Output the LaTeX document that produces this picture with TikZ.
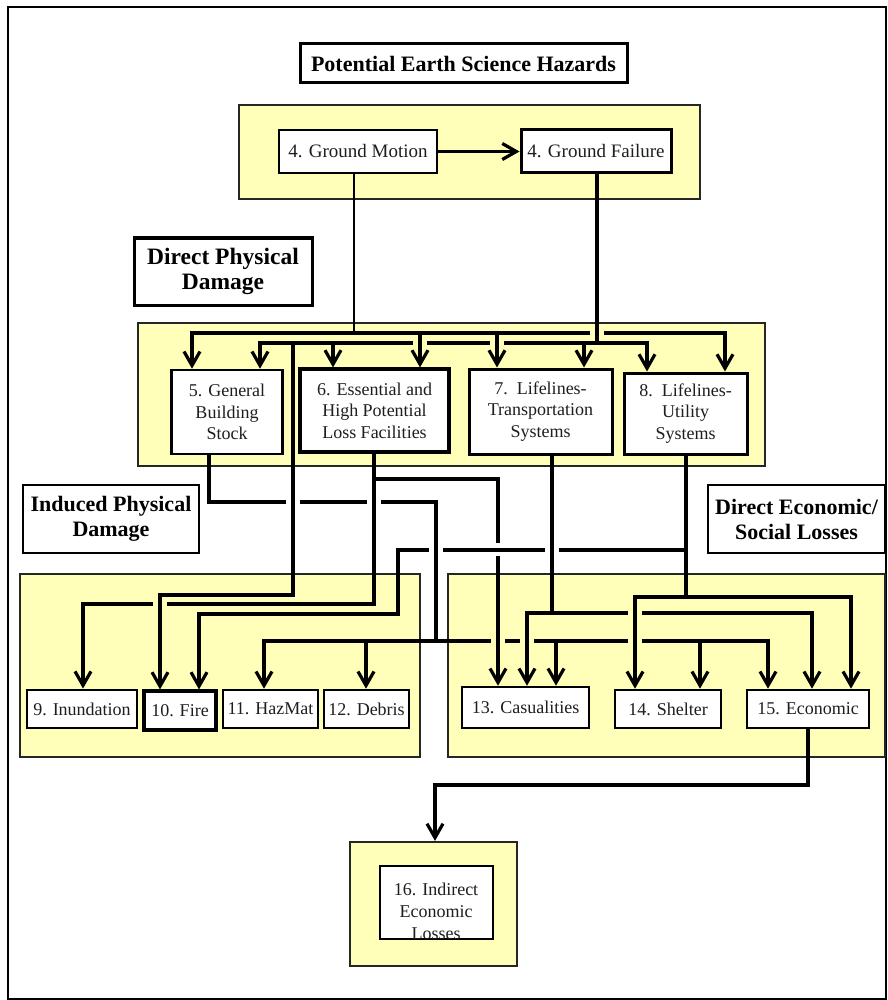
\documentclass[tikz,border=0pt]{standalone}
\usepackage{fontspec}
\setmainfont{Liberation Serif}
\usetikzlibrary{arrows.meta}
\definecolor{yel}{RGB}{255,255,185}
\definecolor{ink}{RGB}{30,30,30}
\begin{document}
\begin{tikzpicture}[x=1pt,y=-1pt,
  yellowbox/.style={draw=black!85, line width=1.6pt, fill=yel, inner sep=0pt},
  wbox/.style={draw=black, line width=2.6pt, fill=white, inner sep=0pt, align=center, text=ink, font=\fontsize{18}{21.6}\selectfont},
  hbox/.style={draw=black, line width=3pt, fill=white, inner sep=0pt, align=center, font=\fontsize{22}{25}\selectfont\bfseries},
  conn/.style={line width=3.2pt},
  medconn/.style={line width=3.2pt},
  thinconn/.style={line width=1.8pt},
  arr/.style={-{Straight Barb[length=14pt,width=16pt]}},
]
\useasboundingbox (0,0) rectangle (887,1000);
\draw[line width=2.8pt] (8,7) rectangle (886,999);

% group backgrounds
\node[yellowbox, minimum width=461, minimum height=94] (y1) at (469.5,152) {};
\node[yellowbox, minimum width=627, minimum height=143] (y2) at (451.5,394.5) {};
\node[yellowbox, minimum width=400, minimum height=183] (y3) at (220,665.5) {};
\node[yellowbox, minimum width=437, minimum height=183] (y4) at (666.5,665.5) {};
\node[yellowbox, line width=2.2pt, minimum width=167, minimum height=124] (y5) at (433.5,904) {};

% headings
\node[hbox, minimum width=327, minimum height=39] (title) at (463.5,63.5) {Potential Earth Science Hazards};
\node[hbox, minimum width=178, minimum height=67, font=\fontsize{23.5}{25.5}\selectfont\bfseries] (dpd) at (223,271.5) {Direct Physical\\Damage};
\node[hbox, line width=2.4pt, minimum width=176, minimum height=68] (ipd) at (111,519) {Induced Physical\\Damage};
\node[hbox, line width=2.4pt, minimum width=177, minimum height=68] (des) at (796.5,519) {Direct Economic/\\Social Losses};

% boxes
\node[wbox, line width=2.8pt, minimum width=158, minimum height=43, font=\fontsize{19}{22}\selectfont] (gm) at (358,151.5) {4. Ground Motion};
\node[wbox, line width=3pt, minimum width=150, minimum height=43, font=\fontsize{19}{22}\selectfont] (gf) at (596,151.5) {4. Ground Failure};
\node[wbox, minimum width=111, minimum height=84] (b5) at (227,412) {5. General\\Building\\Stock};
\node[wbox, line width=3.2pt, minimum width=149, minimum height=83] (b6) at (374.5,410.5) {6. Essential and\\High Potential\\Loss Facilities};
\node[wbox, line width=3pt, minimum width=143, minimum height=85] (b7) at (540.5,411.5) {7.\ \ Lifelines-\\Transportation\\Systems};
\node[wbox, line width=3pt, minimum width=123, minimum height=81] (b8) at (685.5,413.5) {8.\ \ Lifelines-\\Utility\\Systems};
\node[wbox, line width=2.8pt, minimum width=110, minimum height=38] (b9) at (82,709) {9. Inundation};
\node[wbox, line width=3.2pt, minimum width=72, minimum height=39] (b10) at (180,710.5) {10. Fire};
\node[wbox, minimum width=95, minimum height=38] (b11) at (270.5,709) {11. HazMat};
\node[wbox, minimum width=85, minimum height=38] (b12) at (366.5,709) {12. Debris};
\node[wbox, minimum width=127, minimum height=41] (b13) at (525.5,707.5) {13. Casualities};
\node[wbox, minimum width=106, minimum height=38] (b14) at (668,709) {14. Shelter};
\node[wbox, minimum width=122, minimum height=38] (b15) at (808,709) {15. Economic};
\node[wbox, line width=2.8pt, minimum width=113, minimum height=73] (b16) at (436.5,902.5) {};
\node[inner sep=0pt, align=center, text=ink, font=\fontsize{18}{21.8}\selectfont] (b16t) at (436,911.5) {16. Indirect\\Economic\\Losses};

% junction coordinates
\coordinate (gmj) at (354,333);
\coordinate (gfj) at (597,343);
\coordinate (u1) at (192,333);
\coordinate (u2) at (420,333);
\coordinate (u3) at (497,333);
\coordinate (u4) at (725,333);
\coordinate (l1) at (260,343);
\coordinate (l2) at (333,343);
\coordinate (l3) at (584,343);
\coordinate (l4) at (647,343);
\coordinate (fj) at (293,343);
\coordinate (f1) at (293,595);
\coordinate (f2) at (160,595);
\coordinate (g1) at (209,502);
\coordinate (g2) at (436,502);
\coordinate (g3) at (436,641);
\coordinate (hz) at (264,641);
\coordinate (db) at (366,641);
\coordinate (cs) at (556,641);
\coordinate (sh) at (700,641);
\coordinate (ec) at (768,641);
\coordinate (e0) at (374,479);
\coordinate (e1) at (374,604);
\coordinate (e2) at (83,604);
\coordinate (e3) at (498,479);
\coordinate (e4) at (498,556);
\coordinate (t0) at (686,550);
\coordinate (t1) at (398,550);
\coordinate (t2) at (398,614);
\coordinate (t3) at (199,614);
\coordinate (t4) at (686,597);
\coordinate (t5) at (635,597);
\coordinate (t6) at (851,597);
\coordinate (r0) at (552,613);
\coordinate (r1) at (527,613);
\coordinate (r2) at (812,613);
\coordinate (x1) at (808,785);
\coordinate (x2) at (435,785);

% hazards
\draw[conn, arr] (gm.east) -- (gf.west);
\draw[thinconn] (gm.south -| gmj) -- (gmj);
\draw[conn] (gf.south -| gfj) -- (gfj);

% upper bus (ground motion)
\draw[conn, arr] (590,333) -- (u1) -- (b5.north -| u1);
\draw[conn, arr] (604,333) -- (u4) -- (b8.north -| u4);
\draw[conn, arr] (u2) -- (b6.north -| u2);
\draw[conn, arr] (u3) -- (b7.north -| u3);
% lower bus (ground failure)
\draw[conn, arr] (413,343) -- (l1) -- (b5.north -| l1);
\draw[conn] (427,343) -- (490,343);
\draw[conn, arr] (504,343) -- (l4) -- (b8.north -| l4);
\draw[conn, arr] (l2) -- (b6.north -| l2);
\draw[conn, arr] (l3) -- (b7.north -| l3);
% ground failure -> fire
\draw[conn, arr] (fj) -- (f1) -- (f2) -- (b10.north -| f2);

% general building stock
\draw[medconn] (b5.south -| g1) -- (g1) -- (286,502);
\draw[conn] (300,502) -- (367,502);
\draw[conn] (381,502) -- (g2) -- (g3);
\draw[conn, arr] (g3) -- (hz) -- (b11.north -| hz);
\draw[conn, arr] (db) -- (b12.north -| db);
\draw[conn] (g3) -- (491,641);
\draw[conn] (505,641) -- (520,641);
\draw[conn] (534,641) -- (628,641);
\draw[conn, arr] (642,641) -- (ec) -- (b15.north -| ec);
\draw[conn, arr] (cs) -- (b13.north -| cs);
\draw[conn, arr] (sh) -- (b14.north -| sh);

% essential facilities
\draw[medconn] (b6.south -| e1) -- (e1) -- (167,604);
\draw[medconn, arr] (153,604) -- (e2) -- (b9.north -| e2);
\draw[conn] (e0) -- (e3) -- (498,543);
\draw[conn, arr] (e4) -- (b13.north -| e4);

% utility systems
\draw[conn] (b8.south -| t0) -- (t4);
\draw[conn] (t0) -- (559,550);
\draw[conn] (545,550) -- (443,550);
\draw[conn, arr] (429,550) -- (t1) -- (t2) -- (t3) -- (b10.north -| t3);
\draw[conn, arr] (t4) -- (t5) -- (b14.north -| t5);
\draw[conn, arr] (t4) -- (t6) -- (b15.north -| t6);

% transportation systems
\draw[conn] (b7.south -| r0) -- (r0);
\draw[conn, arr] (r0) -- (r1) -- (b13.north -| r1);
\draw[conn] (r0) -- (628,613);
\draw[conn, arr] (642,613) -- (r2) -- (b15.north -| r2);

% economic -> indirect
\draw[conn, arr] (b15.south -| x1) -- (x1) -- (x2) -- (y5.north -| x2);
\end{tikzpicture}
\end{document}
